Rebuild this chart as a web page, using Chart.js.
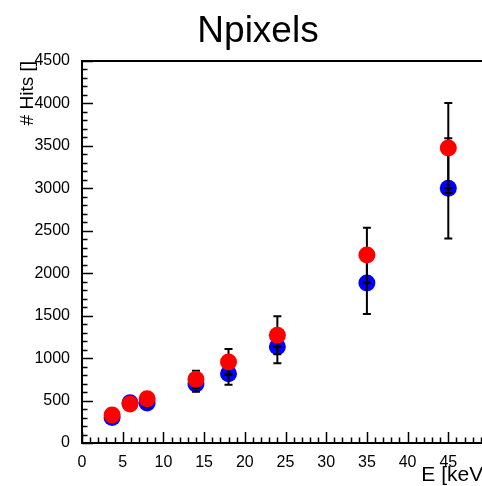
<!DOCTYPE html>
<html>
<head>
<meta charset="utf-8">
<script src="https://cdn.jsdelivr.net/npm/chart.js@4"></script>
<style>
  body { margin: 0; overflow: hidden; background: #fff; }
  #wrap { width: 482px; height: 486px; overflow: hidden; }
</style>
</head>
<body>
<div id="wrap"><canvas id="npix" width="516" height="486"></canvas></div>
<script>
// X-ray line energies (keV) and the two Npixels series with their errors
const energies = [3.7, 5.9, 8, 14, 18, 24, 35, 45];
const hitsBlue = [300, 475, 470, 695, 815, 1135, 1885, 3000];
const errBlue  = [45, 50, 50, 90, 130, 195, 366, 590];
const hitsRed  = [330, 460, 520, 752, 954, 1270, 2215, 3475];
const errRed   = [45, 50, 55, 100, 153, 224, 322, 530];

const FONT = "'Liberation Sans', Arial, Helvetica, sans-serif";

function pts(xs, ys) {
  return xs.map((x, i) => ({ x: x, y: ys[i] }));
}

// ROOT-style frame with inward ticks
const frame = {
  id: 'frame',
  beforeDatasetsDraw(chart) {
    const { ctx, chartArea: a, scales: { x, y } } = chart;
    ctx.save();
    ctx.strokeStyle = '#000';
    ctx.lineWidth = 2;
    ctx.strokeRect(a.left, a.top, a.right - a.left, a.bottom - a.top);
    ctx.lineWidth = 1.5;
    ctx.beginPath();
    for (let v = 0; v <= 4500; v += 100) {
      const py = Math.round(y.getPixelForValue(v)) + 0.5;
      const len = v % 500 === 0 ? 11 : 5.5;
      ctx.moveTo(a.left, py);
      ctx.lineTo(a.left + len, py);
    }
    for (let v = 0; v <= 50; v += 1) {
      const px = Math.round(x.getPixelForValue(v)) + 0.5;
      const len = v % 5 === 0 ? 11 : 5.5;
      ctx.moveTo(px, a.bottom);
      ctx.lineTo(px, a.bottom - len);
    }
    ctx.stroke();
    ctx.restore();
  }
};

function drawErrors(chart, idx, errs, cross) {
  const { ctx, scales: { x, y } } = chart;
  const ds = chart.data.datasets[idx].data;
  ctx.save();
  ctx.strokeStyle = '#000';
  ctx.lineWidth = 2;
  ds.forEach((p, i) => {
    const px = x.getPixelForValue(p.x);
    const lo = y.getPixelForValue(p.y - errs[i]);
    const hi = y.getPixelForValue(p.y + errs[i]);
    const c = y.getPixelForValue(p.y);
    ctx.beginPath();
    ctx.moveTo(px, lo); ctx.lineTo(px, hi);
    ctx.moveTo(px - 4, lo); ctx.lineTo(px + 4, lo);
    ctx.moveTo(px - 4, hi); ctx.lineTo(px + 4, hi);
    if (cross) { ctx.moveTo(px - 4, c); ctx.lineTo(px + 4, c); }
    ctx.stroke();
  });
  ctx.restore();
}

const errorBars = {
  id: 'errorBars',
  afterDatasetDraw(chart, args) {
    if (args.index === 0) drawErrors(chart, 0, errBlue, true);
  },
  beforeDatasetDraw(chart, args) {
    if (args.index === 1) drawErrors(chart, 1, errRed, false);
  }
};

const titleText = {
  id: 'titleText',
  afterDraw(chart) {
    const ctx = chart.ctx;
    ctx.save();
    ctx.fillStyle = '#000';
    ctx.font = '37px ' + FONT;
    ctx.textAlign = 'center';
    ctx.textBaseline = 'alphabetic';
    ctx.fillText('Npixels', 258, 42);
    ctx.restore();
  }
};

new Chart(document.getElementById('npix'), {
  type: 'scatter',
  data: {
    datasets: [{
      label: 'blue',
      data: pts(energies, hitsBlue),
      backgroundColor: '#0000ff',
      borderWidth: 0,
      pointRadius: 8.5,
      order: 2
    }, {
      label: 'red',
      data: pts(energies, hitsRed),
      backgroundColor: '#ff0000',
      borderWidth: 0,
      pointRadius: 8.5,
      order: 1
    }]
  },
  options: {
    responsive: false,
    animation: false,
    devicePixelRatio: 1,
    layout: { padding: { left: 0, right: 27, top: 61, bottom: 0 } },
    plugins: { legend: { display: false }, tooltip: { enabled: false } },
    scales: {
      x: {
        type: 'linear', min: 0, max: 50,
        grid: { display: false }, border: { display: false },
        afterFit(s) { s.height = 43; },
        ticks: {
          stepSize: 5, padding: 2, color: '#000',
          font: { family: FONT, size: 16 },
          maxRotation: 0,
          callback: v => (v === 50 ? '' : String(v))
        },
        title: {
          display: true, text: 'E [keV]', align: 'end', color: '#000',
          font: { family: FONT, size: 21, lineHeight: 1 },
          padding: { top: 0, bottom: 0 }
        }
      },
      y: {
        type: 'linear', min: 0, max: 4500,
        grid: { display: false }, border: { display: false },
        afterFit(s) { s.width = 82; },
        ticks: {
          stepSize: 500, padding: 4, color: '#000',
          font: { family: FONT, size: 16 },
          callback: v => String(v)
        },
        title: {
          display: true, text: '# Hits []', align: 'end', color: '#000',
          font: { family: FONT, size: 19, lineHeight: 1 },
          padding: { top: 18, bottom: 0 }
        }
      }
    }
  },
  plugins: [frame, errorBars, titleText]
});
</script>
</body>
</html>
